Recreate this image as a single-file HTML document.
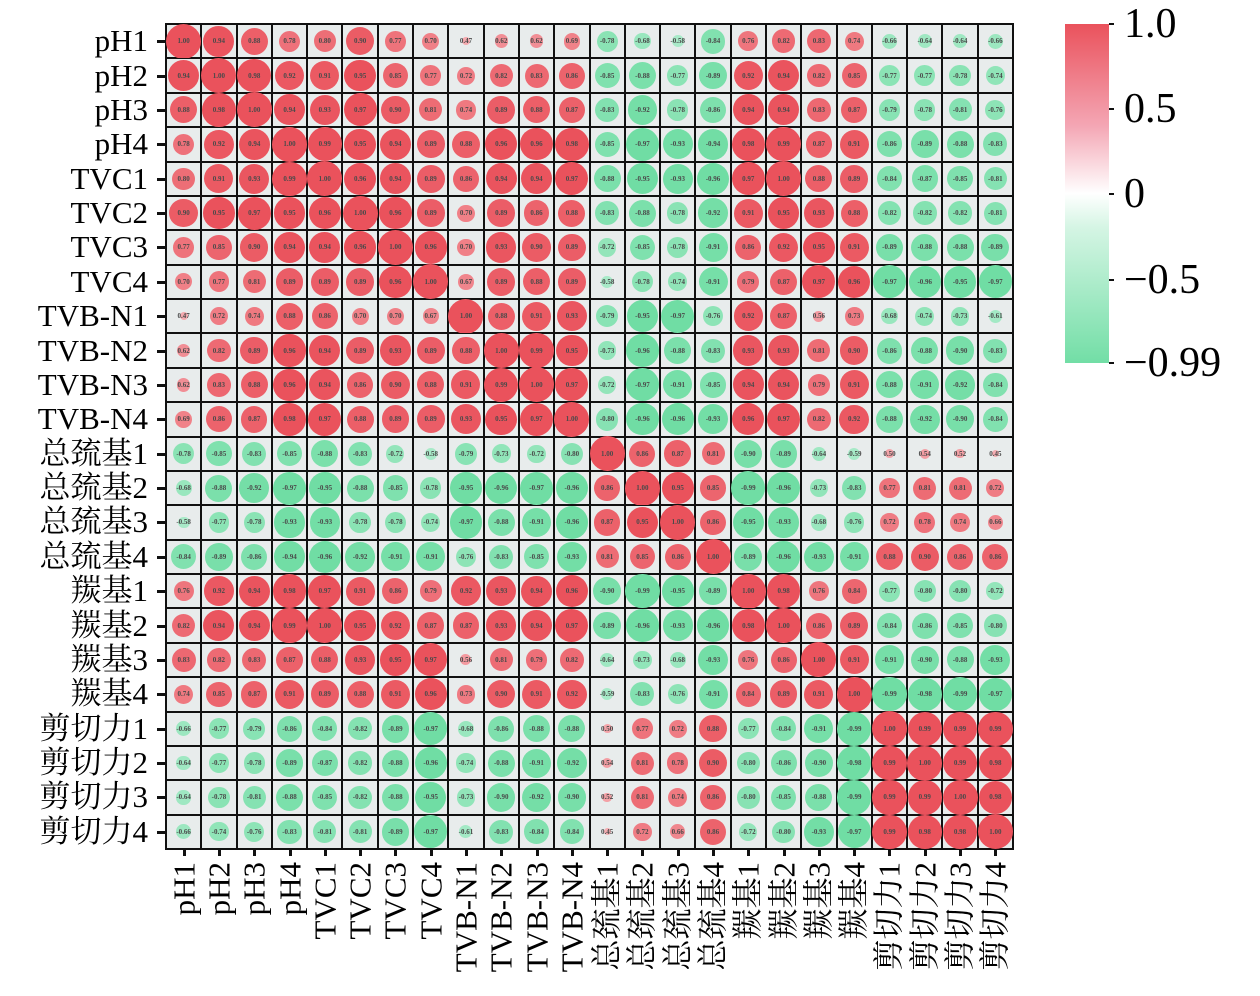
<!DOCTYPE html>
<html><head><meta charset="utf-8"><style>
body{margin:0;width:1260px;height:996px;background:#fff;position:relative;overflow:hidden;font-family:"Liberation Serif","Noto Serif CJK SC",serif}
#g{position:absolute;left:165px;top:23px;width:849px;height:827px;display:grid;grid-template-columns:repeat(24,1fr);grid-template-rows:repeat(24,1fr);border:1.5px solid #111;box-sizing:border-box;background:#111}
#g i{font-style:normal;position:relative;border:1.5px solid #111;background:#e8ecec;display:flex;align-items:center;justify-content:center;font-size:7px;font-weight:bold;color:#4a4a4a;font-family:"Liberation Serif",serif}
#g i b{position:absolute;border-radius:50%;left:50%;top:50%}
#g i s{text-decoration:none;position:relative;z-index:1}
.yl{position:absolute;right:1112px;font-size:31px;line-height:31px;color:#000;white-space:nowrap}
.xl{position:absolute;top:862px;font-size:31px;line-height:31px;white-space:nowrap;transform-origin:0 0;transform:rotate(-90deg) translateX(-100%) translateY(-50%)}
.tk{position:absolute;background:#111}
#cb{position:absolute;left:1065px;top:24px;width:44px;height:339px;background:linear-gradient(#ea525c,#f4a6b4 30%,#fff 50%,#d5f5e4 60%,#72dea6)}
.cl{position:absolute;left:1124px;font-size:42px;line-height:42px;font-family:"Liberation Serif",serif}
</style></head><body>
<div id="g">
<i>1.00</i><i>0.94</i><i>0.88</i><i>0.78</i><i>0.80</i><i>0.90</i><i>0.77</i><i>0.70</i><i>0.47</i><i>0.62</i><i>0.62</i><i>0.69</i><i>-0.78</i><i>-0.68</i><i>-0.58</i><i>-0.84</i><i>0.76</i><i>0.82</i><i>0.83</i><i>0.74</i><i>-0.66</i><i>-0.64</i><i>-0.64</i><i>-0.66</i>
<i>0.94</i><i>1.00</i><i>0.98</i><i>0.92</i><i>0.91</i><i>0.95</i><i>0.85</i><i>0.77</i><i>0.72</i><i>0.82</i><i>0.83</i><i>0.86</i><i>-0.85</i><i>-0.88</i><i>-0.77</i><i>-0.89</i><i>0.92</i><i>0.94</i><i>0.82</i><i>0.85</i><i>-0.77</i><i>-0.77</i><i>-0.78</i><i>-0.74</i>
<i>0.88</i><i>0.98</i><i>1.00</i><i>0.94</i><i>0.93</i><i>0.97</i><i>0.90</i><i>0.81</i><i>0.74</i><i>0.89</i><i>0.88</i><i>0.87</i><i>-0.83</i><i>-0.92</i><i>-0.78</i><i>-0.86</i><i>0.94</i><i>0.94</i><i>0.83</i><i>0.87</i><i>-0.79</i><i>-0.78</i><i>-0.81</i><i>-0.76</i>
<i>0.78</i><i>0.92</i><i>0.94</i><i>1.00</i><i>0.99</i><i>0.95</i><i>0.94</i><i>0.89</i><i>0.88</i><i>0.96</i><i>0.96</i><i>0.98</i><i>-0.85</i><i>-0.97</i><i>-0.93</i><i>-0.94</i><i>0.98</i><i>0.99</i><i>0.87</i><i>0.91</i><i>-0.86</i><i>-0.89</i><i>-0.88</i><i>-0.83</i>
<i>0.80</i><i>0.91</i><i>0.93</i><i>0.99</i><i>1.00</i><i>0.96</i><i>0.94</i><i>0.89</i><i>0.86</i><i>0.94</i><i>0.94</i><i>0.97</i><i>-0.88</i><i>-0.95</i><i>-0.93</i><i>-0.96</i><i>0.97</i><i>1.00</i><i>0.88</i><i>0.89</i><i>-0.84</i><i>-0.87</i><i>-0.85</i><i>-0.81</i>
<i>0.90</i><i>0.95</i><i>0.97</i><i>0.95</i><i>0.96</i><i>1.00</i><i>0.96</i><i>0.89</i><i>0.70</i><i>0.89</i><i>0.86</i><i>0.88</i><i>-0.83</i><i>-0.88</i><i>-0.78</i><i>-0.92</i><i>0.91</i><i>0.95</i><i>0.93</i><i>0.88</i><i>-0.82</i><i>-0.82</i><i>-0.82</i><i>-0.81</i>
<i>0.77</i><i>0.85</i><i>0.90</i><i>0.94</i><i>0.94</i><i>0.96</i><i>1.00</i><i>0.96</i><i>0.70</i><i>0.93</i><i>0.90</i><i>0.89</i><i>-0.72</i><i>-0.85</i><i>-0.78</i><i>-0.91</i><i>0.86</i><i>0.92</i><i>0.95</i><i>0.91</i><i>-0.89</i><i>-0.88</i><i>-0.88</i><i>-0.89</i>
<i>0.70</i><i>0.77</i><i>0.81</i><i>0.89</i><i>0.89</i><i>0.89</i><i>0.96</i><i>1.00</i><i>0.67</i><i>0.89</i><i>0.88</i><i>0.89</i><i>-0.58</i><i>-0.78</i><i>-0.74</i><i>-0.91</i><i>0.79</i><i>0.87</i><i>0.97</i><i>0.96</i><i>-0.97</i><i>-0.96</i><i>-0.95</i><i>-0.97</i>
<i>0.47</i><i>0.72</i><i>0.74</i><i>0.88</i><i>0.86</i><i>0.70</i><i>0.70</i><i>0.67</i><i>1.00</i><i>0.88</i><i>0.91</i><i>0.93</i><i>-0.79</i><i>-0.95</i><i>-0.97</i><i>-0.76</i><i>0.92</i><i>0.87</i><i>0.56</i><i>0.73</i><i>-0.68</i><i>-0.74</i><i>-0.73</i><i>-0.61</i>
<i>0.62</i><i>0.82</i><i>0.89</i><i>0.96</i><i>0.94</i><i>0.89</i><i>0.93</i><i>0.89</i><i>0.88</i><i>1.00</i><i>0.99</i><i>0.95</i><i>-0.73</i><i>-0.96</i><i>-0.88</i><i>-0.83</i><i>0.93</i><i>0.93</i><i>0.81</i><i>0.90</i><i>-0.86</i><i>-0.88</i><i>-0.90</i><i>-0.83</i>
<i>0.62</i><i>0.83</i><i>0.88</i><i>0.96</i><i>0.94</i><i>0.86</i><i>0.90</i><i>0.88</i><i>0.91</i><i>0.99</i><i>1.00</i><i>0.97</i><i>-0.72</i><i>-0.97</i><i>-0.91</i><i>-0.85</i><i>0.94</i><i>0.94</i><i>0.79</i><i>0.91</i><i>-0.88</i><i>-0.91</i><i>-0.92</i><i>-0.84</i>
<i>0.69</i><i>0.86</i><i>0.87</i><i>0.98</i><i>0.97</i><i>0.88</i><i>0.89</i><i>0.89</i><i>0.93</i><i>0.95</i><i>0.97</i><i>1.00</i><i>-0.80</i><i>-0.96</i><i>-0.96</i><i>-0.93</i><i>0.96</i><i>0.97</i><i>0.82</i><i>0.92</i><i>-0.88</i><i>-0.92</i><i>-0.90</i><i>-0.84</i>
<i>-0.78</i><i>-0.85</i><i>-0.83</i><i>-0.85</i><i>-0.88</i><i>-0.83</i><i>-0.72</i><i>-0.58</i><i>-0.79</i><i>-0.73</i><i>-0.72</i><i>-0.80</i><i>1.00</i><i>0.86</i><i>0.87</i><i>0.81</i><i>-0.90</i><i>-0.89</i><i>-0.64</i><i>-0.59</i><i>0.50</i><i>0.54</i><i>0.52</i><i>0.45</i>
<i>-0.68</i><i>-0.88</i><i>-0.92</i><i>-0.97</i><i>-0.95</i><i>-0.88</i><i>-0.85</i><i>-0.78</i><i>-0.95</i><i>-0.96</i><i>-0.97</i><i>-0.96</i><i>0.86</i><i>1.00</i><i>0.95</i><i>0.85</i><i>-0.99</i><i>-0.96</i><i>-0.73</i><i>-0.83</i><i>0.77</i><i>0.81</i><i>0.81</i><i>0.72</i>
<i>-0.58</i><i>-0.77</i><i>-0.78</i><i>-0.93</i><i>-0.93</i><i>-0.78</i><i>-0.78</i><i>-0.74</i><i>-0.97</i><i>-0.88</i><i>-0.91</i><i>-0.96</i><i>0.87</i><i>0.95</i><i>1.00</i><i>0.86</i><i>-0.95</i><i>-0.93</i><i>-0.68</i><i>-0.76</i><i>0.72</i><i>0.78</i><i>0.74</i><i>0.66</i>
<i>-0.84</i><i>-0.89</i><i>-0.86</i><i>-0.94</i><i>-0.96</i><i>-0.92</i><i>-0.91</i><i>-0.91</i><i>-0.76</i><i>-0.83</i><i>-0.85</i><i>-0.93</i><i>0.81</i><i>0.85</i><i>0.86</i><i>1.00</i><i>-0.89</i><i>-0.96</i><i>-0.93</i><i>-0.91</i><i>0.88</i><i>0.90</i><i>0.86</i><i>0.86</i>
<i>0.76</i><i>0.92</i><i>0.94</i><i>0.98</i><i>0.97</i><i>0.91</i><i>0.86</i><i>0.79</i><i>0.92</i><i>0.93</i><i>0.94</i><i>0.96</i><i>-0.90</i><i>-0.99</i><i>-0.95</i><i>-0.89</i><i>1.00</i><i>0.98</i><i>0.76</i><i>0.84</i><i>-0.77</i><i>-0.80</i><i>-0.80</i><i>-0.72</i>
<i>0.82</i><i>0.94</i><i>0.94</i><i>0.99</i><i>1.00</i><i>0.95</i><i>0.92</i><i>0.87</i><i>0.87</i><i>0.93</i><i>0.94</i><i>0.97</i><i>-0.89</i><i>-0.96</i><i>-0.93</i><i>-0.96</i><i>0.98</i><i>1.00</i><i>0.86</i><i>0.89</i><i>-0.84</i><i>-0.86</i><i>-0.85</i><i>-0.80</i>
<i>0.83</i><i>0.82</i><i>0.83</i><i>0.87</i><i>0.88</i><i>0.93</i><i>0.95</i><i>0.97</i><i>0.56</i><i>0.81</i><i>0.79</i><i>0.82</i><i>-0.64</i><i>-0.73</i><i>-0.68</i><i>-0.93</i><i>0.76</i><i>0.86</i><i>1.00</i><i>0.91</i><i>-0.91</i><i>-0.90</i><i>-0.88</i><i>-0.93</i>
<i>0.74</i><i>0.85</i><i>0.87</i><i>0.91</i><i>0.89</i><i>0.88</i><i>0.91</i><i>0.96</i><i>0.73</i><i>0.90</i><i>0.91</i><i>0.92</i><i>-0.59</i><i>-0.83</i><i>-0.76</i><i>-0.91</i><i>0.84</i><i>0.89</i><i>0.91</i><i>1.00</i><i>-0.99</i><i>-0.98</i><i>-0.99</i><i>-0.97</i>
<i>-0.66</i><i>-0.77</i><i>-0.79</i><i>-0.86</i><i>-0.84</i><i>-0.82</i><i>-0.89</i><i>-0.97</i><i>-0.68</i><i>-0.86</i><i>-0.88</i><i>-0.88</i><i>0.50</i><i>0.77</i><i>0.72</i><i>0.88</i><i>-0.77</i><i>-0.84</i><i>-0.91</i><i>-0.99</i><i>1.00</i><i>0.99</i><i>0.99</i><i>0.99</i>
<i>-0.64</i><i>-0.77</i><i>-0.78</i><i>-0.89</i><i>-0.87</i><i>-0.82</i><i>-0.88</i><i>-0.96</i><i>-0.74</i><i>-0.88</i><i>-0.91</i><i>-0.92</i><i>0.54</i><i>0.81</i><i>0.78</i><i>0.90</i><i>-0.80</i><i>-0.86</i><i>-0.90</i><i>-0.98</i><i>0.99</i><i>1.00</i><i>0.99</i><i>0.98</i>
<i>-0.64</i><i>-0.78</i><i>-0.81</i><i>-0.88</i><i>-0.85</i><i>-0.82</i><i>-0.88</i><i>-0.95</i><i>-0.73</i><i>-0.90</i><i>-0.92</i><i>-0.90</i><i>0.52</i><i>0.81</i><i>0.74</i><i>0.86</i><i>-0.80</i><i>-0.85</i><i>-0.88</i><i>-0.99</i><i>0.99</i><i>0.99</i><i>1.00</i><i>0.98</i>
<i>-0.66</i><i>-0.74</i><i>-0.76</i><i>-0.83</i><i>-0.81</i><i>-0.81</i><i>-0.89</i><i>-0.97</i><i>-0.61</i><i>-0.83</i><i>-0.84</i><i>-0.84</i><i>0.45</i><i>0.72</i><i>0.66</i><i>0.86</i><i>-0.72</i><i>-0.80</i><i>-0.93</i><i>-0.97</i><i>0.99</i><i>0.98</i><i>0.98</i><i>1.00</i>
</div>
<div id="labs">
<span class="yl">pH1</span><span class="yl">pH2</span><span class="yl">pH3</span><span class="yl">pH4</span><span class="yl">TVC1</span><span class="yl">TVC2</span><span class="yl">TVC3</span><span class="yl">TVC4</span><span class="yl">TVB-N1</span><span class="yl">TVB-N2</span><span class="yl">TVB-N3</span><span class="yl">TVB-N4</span><span class="yl">总巯基1</span><span class="yl">总巯基2</span><span class="yl">总巯基3</span><span class="yl">总巯基4</span><span class="yl">羰基1</span><span class="yl">羰基2</span><span class="yl">羰基3</span><span class="yl">羰基4</span><span class="yl">剪切力1</span><span class="yl">剪切力2</span><span class="yl">剪切力3</span><span class="yl">剪切力4</span>
<span class="xl">pH1</span><span class="xl">pH2</span><span class="xl">pH3</span><span class="xl">pH4</span><span class="xl">TVC1</span><span class="xl">TVC2</span><span class="xl">TVC3</span><span class="xl">TVC4</span><span class="xl">TVB-N1</span><span class="xl">TVB-N2</span><span class="xl">TVB-N3</span><span class="xl">TVB-N4</span><span class="xl">总巯基1</span><span class="xl">总巯基2</span><span class="xl">总巯基3</span><span class="xl">总巯基4</span><span class="xl">羰基1</span><span class="xl">羰基2</span><span class="xl">羰基3</span><span class="xl">羰基4</span><span class="xl">剪切力1</span><span class="xl">剪切力2</span><span class="xl">剪切力3</span><span class="xl">剪切力4</span>
</div>
<div id="cb"></div>
<span class="cl" style="top:3px">1.0</span>
<span class="cl" style="top:88px">0.5</span>
<span class="cl" style="top:173px">0</span>
<span class="cl" style="top:259px">−0.5</span>
<span class="cl" style="top:342px">−0.99</span>
<div class="tk" style="left:1109px;top:23px;width:5px;height:2px"></div>
<div class="tk" style="left:1109px;top:108px;width:5px;height:2px"></div>
<div class="tk" style="left:1109px;top:193px;width:5px;height:2px"></div>
<div class="tk" style="left:1109px;top:279px;width:5px;height:2px"></div>
<div class="tk" style="left:1109px;top:362px;width:5px;height:2px"></div>
<script>
var L=166,T=24,CW=(1013-166)/24,CH=(849-24)/24;
document.querySelectorAll('#g i').forEach(function(e){
 var t=e.textContent, v=parseFloat(t), a=Math.abs(v);
 var r=17.5*a*a;
 var c=v>0?[234,82,92]:[112,221,164];
 var k=Math.min(1,a*1.05);
 var col='rgb('+c.map(function(x){return Math.round(255+(x-255)*k)}).join(',')+')';
 e.innerHTML='<b style="width:'+2*r+'px;height:'+2*r+'px;margin:-'+r+'px 0 0 -'+r+'px;background:'+col+'"></b><s>'+t+'</s>';
});
var ys=document.querySelectorAll('.yl'),xs=document.querySelectorAll('.xl');
for(var i=0;i<24;i++){
 ys[i].style.top=(T+CH*(i+0.5)-16)+'px';
 xs[i].style.left=(L+CW*(i+0.5))+'px';
 var d=document.createElement('div');d.className='tk';
 d.style.cssText='left:157px;top:'+(T+CH*(i+0.5)-1)+'px;width:8px;height:3px';document.body.appendChild(d);
 d=document.createElement('div');d.className='tk';
 d.style.cssText='left:'+(L+CW*(i+0.5)-1)+'px;top:849px;width:3px;height:7px';document.body.appendChild(d);
}
</script>
</body></html>
